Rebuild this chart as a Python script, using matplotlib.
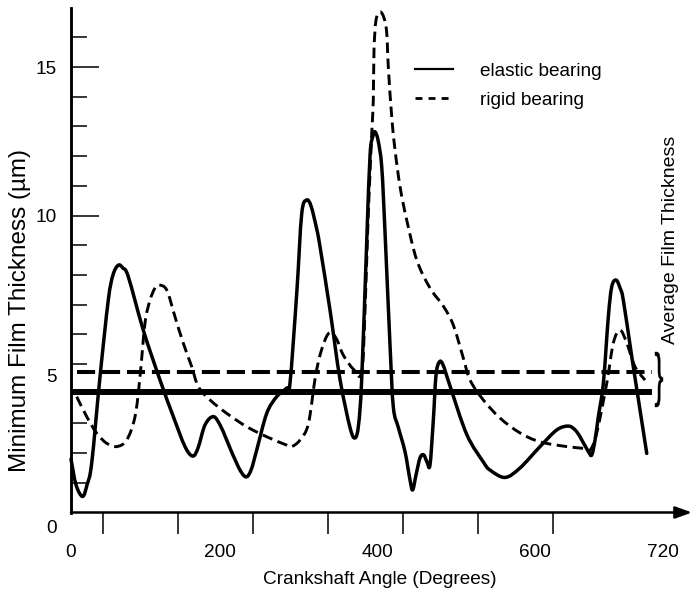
import numpy as np
import matplotlib
matplotlib.use("Agg")
import matplotlib.pyplot as plt
from matplotlib.lines import Line2D
from matplotlib.path import Path
from matplotlib.patches import PathPatch
from matplotlib.textpath import TextPath
from matplotlib.font_manager import FontProperties
from matplotlib.transforms import Affine2D

plt.rcParams['font.family'] = ['Liberation Sans', 'DejaVu Sans']

# Minimum film thickness over one cycle, elastic bearing (solid)
elastic_deg = [0, 6.5, 15, 20.7, 26.8, 37.5, 48.2, 54.3, 61.2, 67.2, 74.1, 93.5, 115.1, 132.3,
               147.4, 157.4, 164.2, 173.3, 184.0, 192.7, 201.3, 216.3, 225.9, 232.8, 240.1, 253.1,
               266.0, 278.9, 283.2, 291.9, 298.3, 304.5, 310.4, 317.7, 322.0, 334.9, 347.8, 360.8,
               367.3, 371.8, 375.9, 382.4, 386.7, 390.5, 393.1, 397.0, 401.8, 406.1, 412.5, 416.8,
               423.3, 431.9, 438.4, 441.8, 446.1, 451.3, 456.0, 460.4, 464.2, 468.5, 472.0, 476.3,
               481.1, 490.1, 511.7, 533.2, 541.8, 561.2, 580.6, 606.5, 628.1, 643.1, 651.8, 658.2,
               669.0, 673.4, 677.6, 681.9, 688.4, 694.8, 699.2, 704.8, 710.0, 714.2, 725.1, 735.8,
               744.5]
elastic_um = [1.80, 0.93, 0.54, 0.93, 1.67, 4.57, 7.15, 8.0, 8.33, 8.23, 7.94, 6.14, 4.46, 3.23,
              2.22, 1.90, 2.17, 2.95, 3.23, 2.95, 2.44, 1.54, 1.20, 1.43, 2.10, 3.34,
              3.90, 4.19, 4.36, 7.39, 10.05, 10.52, 10.32, 9.55, 8.95, 6.82, 4.49, 2.86,
              2.51, 2.95, 4.49, 9.14, 12.04, 12.68, 12.82, 12.54, 11.64, 9.41, 5.64, 3.55,
              2.86, 2.05, 1.09, 0.76, 1.26, 1.84, 1.94, 1.70, 1.60, 3.11, 4.63, 5.07,
              4.97, 4.26, 2.63, 1.70, 1.43, 1.18, 1.50, 2.22, 2.78, 2.91, 2.78, 2.55,
              2.05, 1.94, 2.44, 3.23, 4.36, 6.59, 7.60, 7.83, 7.56, 7.15, 5.25, 3.45,
              1.99]

# rigid bearing (dashed)
rigid_deg = [7.4, 20.3, 33.2, 46.2, 59.1, 72.0, 82.8, 89.2, 95.7, 102.2, 108.6, 113.8, 123.8,
             134.5, 145.2, 156.1, 164.6, 179.8, 201.3, 227.2, 253.1, 278.9, 285.4, 296.1, 306.9,
             315.5, 322.0, 330.7, 337.1, 344.0, 352.1, 365.1, 375.9, 380.2, 384.1, 388.9, 390.9,
             391.8, 394.4, 399.6, 404.8, 408.3, 410.3, 414.7, 419.0, 425.5, 434.1, 447.1, 464.2,
             481.4, 494.4, 507.3, 516.0, 533.2, 554.8, 580.6, 606.5, 641.0, 662.5, 671.2, 679.8,
             692.8, 701.3, 710.0, 718.6, 729.3, 742.3]
rigid_um = [3.90, 3.23, 2.67, 2.33, 2.22, 2.44, 3.23, 4.57, 6.38, 7.15, 7.56, 7.66, 7.49,
            6.59, 5.70, 4.91, 4.24, 3.79, 3.34, 2.89, 2.55, 2.27, 2.22, 2.44, 2.98,
            4.49, 5.30, 5.94, 6.05, 5.81, 5.30, 4.83, 4.72, 6.82, 9.85, 12.78, 13.89,
            15.57, 16.58, 16.86, 16.65, 16.14, 15.01, 13.33, 12.21, 10.97, 9.85, 8.50, 7.56,
            6.95, 6.31, 5.20, 4.46, 3.79, 3.18, 2.68, 2.38, 2.22, 2.16, 2.10, 2.68,
            4.36, 5.71, 6.14, 5.71, 4.91, 4.46]

# average film thickness lines
elastic_avg = 4.06
rigid_avg = 4.73
avg_span = [0, 751]

x_labels = ['0', '200', '400', '600', '720']
y_labels = ['5', '10', '15']

fs = 13.7


def smooth_path(xs, ys):
    # Catmull-Rom through the read points, drawn as cubic Bezier segments
    pts = np.column_stack([xs, ys])
    p = np.vstack([pts[0], pts, pts[-1]])
    verts = [pts[0]]
    codes = [Path.MOVETO]
    for i in range(1, len(p) - 2):
        p0, p1, p2, p3 = p[i - 1], p[i], p[i + 1], p[i + 2]
        verts += [p1 + (p2 - p0) / 6, p2 - (p3 - p1) / 6, p2]
        codes += [Path.CURVE4] * 3
    return Path(verts, codes)


fig = plt.figure(figsize=(6.92, 5.90), dpi=100)
ax = fig.add_axes([71 / 692, 77.5 / 590, 621 / 692, 504.5 / 590])
ax.set_xlim(0, 803)
ax.set_ylim(0, 16.99)

elastic_patch = PathPatch(smooth_path(elastic_deg, elastic_um), fill=False, edgecolor='black',
                          lw=2.5, clip_on=False, joinstyle='round', capstyle='round')
ax.add_patch(elastic_patch)
rigid_patch = PathPatch(smooth_path(rigid_deg, rigid_um), fill=False, edgecolor='black',
                        lw=2.1, linestyle=(0, (3.6, 1.9)), clip_on=False)
ax.add_patch(rigid_patch)
ax.plot(avg_span, [elastic_avg, elastic_avg], color='black', lw=4.3, solid_capstyle='butt')
ax.plot([8, avg_span[1]], [rigid_avg, rigid_avg], color='black', lw=2.9,
        linestyle=(0, (4.5, 1.7)))

# axes look
for s in ['top', 'right', 'bottom']:
    ax.spines[s].set_visible(False)
ax.spines['left'].set_linewidth(1.8)

ax.set_yticks([4.6, 10, 15], y_labels)
ax.tick_params(axis='y', which='major', length=0, pad=10, labelsize=fs)
ax.set_yticks(range(1, 17), minor=True)
ax.tick_params(axis='y', which='minor', direction='in', length=11.5, width=1.1)
sec = ax.secondary_yaxis('left')
sec.set_yticks([10, 15])
sec.tick_params(direction='in', length=20, width=1.1, labelleft=False)
sec.spines['left'].set_linewidth(1.8)

ax.set_xticks([0, 193, 396, 600, 765], x_labels)
ax.tick_params(axis='x', which='major', length=0, pad=23, labelsize=fs)
ax.set_xticks([41, 138, 235, 332, 429, 526, 623], minor=True)
ax.tick_params(axis='x', which='minor', direction='out', length=15, width=1.1)

ax.annotate('0', xy=(0, 0), xytext=(-13.7, -11.2), textcoords='offset points',
            ha='center', va='center', fontsize=fs, annotation_clip=False)

# x axis drawn as an arrow
ax.annotate('', xy=(1, 0), xytext=(0, 0), xycoords='axes fraction',
            arrowprops=dict(arrowstyle='-|>,head_length=0.5,head_width=0.18', lw=1.8,
                            color='black', mutation_scale=20, shrinkA=0, shrinkB=0),
            annotation_clip=False)

ax.set_xlabel('Crankshaft Angle (Degrees)', fontsize=fs)
ax.xaxis.set_label_coords(0.4976, -0.116)
ax.set_ylabel('Minimum Film Thickness (µm)', fontsize=17.5)
ax.yaxis.set_label_coords(-0.064, 0.40)

handles = [Line2D([], [], color='black', lw=1.6),
           Line2D([], [], color='black', lw=2.0, linestyle=(0, (2.5, 2.2)))]
ax.legend(handles, ['elastic bearing', 'rigid bearing'], loc='upper left',
          bbox_to_anchor=(0.554, 0.892), frameon=False, fontsize=fs, handlelength=2.0,
          handletextpad=1.4, labelspacing=0.62, borderpad=0, borderaxespad=0)

ax.text(0.966, 0.54, 'Average Film Thickness', transform=ax.transAxes, rotation=90,
        ha='center', va='center', fontsize=14)

# tall thin brace next to the average lines
tp = TextPath((0, 0), '}', size=1, prop=FontProperties(family='Liberation Sans'))
bb = tp.get_extents()
tr = Affine2D().translate(-bb.x0, -bb.y0).scale(8 / bb.width, 55 / bb.height).translate(655, 183)
fig.add_artist(PathPatch(tp, transform=tr, facecolor='black', edgecolor='black', lw=0.3))

fig.savefig('out.png', dpi=100)
